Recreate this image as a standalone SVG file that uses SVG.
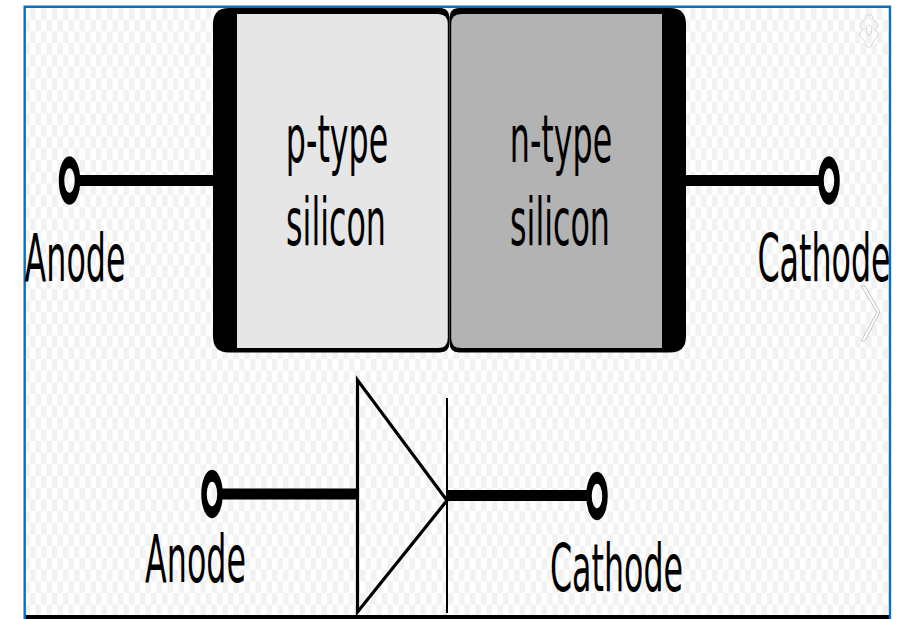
<svg xmlns="http://www.w3.org/2000/svg" width="904" height="619" viewBox="0 0 904 619">
<style>
.t{font-family:"DejaVu Sans",sans-serif;font-size:31.700px;fill:#000}
.w{fill:none;stroke:#000;stroke-width:11}
.term{fill:none;stroke:#000;stroke-width:5.500}
.sym{fill:none;stroke:#000;stroke-width:3.200}
</style>
<defs>
<pattern id="chk" x="30" y="8" width="11" height="23.400" patternUnits="userSpaceOnUse">
<rect x="0" y="0" width="5.500" height="11.700" fill="#f2f2f2"/>
<rect x="5.500" y="11.700" width="5.500" height="11.700" fill="#f2f2f2"/>
</pattern>
</defs>
<rect width="904" height="619" fill="#fff"/>
<g id="frame">
<rect x="25" y="7" width="865" height="609" fill="url(#chk)"/>
<rect x="25" y="615" width="864" height="4" fill="#000"/>
<path d="M24.700 619V6.700H890V619" fill="none" stroke="#0b6fc4" stroke-width="2.400"/>
</g>
<g id="connectors">
<path class="w" d="M78 180.500H214"/>
<path class="w" d="M685 180.500H820"/>
<path class="w" d="M220 494H357"/>
<path class="w" d="M447 495.500H589"/>
</g>
<g id="p-type-silicon">
<path d="M229 8H440Q449.500 8 449.500 19V342Q449.500 352.500 440 352.500H229Q213 352.500 213 336.500V24Q213 8 229 8Z" fill="#000"/>
<path d="M237 14H438Q447.800 14 447.800 24V338Q447.800 348 438 348H237Z" fill="#e6e6e6"/>
<text class="t" transform="translate(337 162) scale(1 2.100)" text-anchor="middle">p-type</text>
<text class="t" transform="translate(336 245) scale(1 2.100)" text-anchor="middle">silicon</text>
</g>
<g id="n-type-silicon">
<path d="M670 8H459Q449.500 8 449.500 19V342Q449.500 352.500 459 352.500H670Q686 352.500 686 336.500V24Q686 8 670 8Z" fill="#000"/>
<path d="M662 14H461Q451.200 14 451.200 24V338Q451.200 348 461 348H662Z" fill="#b3b3b3"/>
<text class="t" transform="translate(561 162) scale(1 2.100)" text-anchor="middle">n-type</text>
<text class="t" transform="translate(560 245) scale(1 2.100)" text-anchor="middle">silicon</text>
</g>
<g id="anode-top">
<ellipse class="term" transform="translate(69.500 180.500) scale(1 2.150)" rx="8" ry="8.500"/>
<text class="t" transform="translate(75 281) scale(1 2.100)" text-anchor="middle">Anode</text>
</g>
<g id="cathode-top">
<ellipse class="term" transform="translate(829 180.500) scale(1 2.150)" rx="8" ry="8.500"/>
<text class="t" transform="translate(824 281) scale(1 2.100)" text-anchor="middle">Cathode</text>
</g>
<g id="diode-symbol">
<path class="sym" d="M357.500 380V612L447 500.500Z"/>
<path d="M447 398V613" fill="none" stroke="#000" stroke-width="2"/>
</g>
<g id="anode-bottom">
<ellipse class="term" transform="translate(212 494) scale(1 2.150)" rx="8" ry="8.500"/>
<text class="t" transform="translate(195.500 582) scale(1 2.100)" text-anchor="middle">Anode</text>
</g>
<g id="cathode-bottom">
<ellipse class="term" transform="translate(597 496) scale(1 2.150)" rx="8" ry="8.500"/>
<text class="t" transform="translate(616.500 591) scale(1 2.100)" text-anchor="middle">Cathode</text>
</g>
<g id="gear-icon" fill="none" stroke="#d8d8d8" stroke-width="1">
<path d="M869 15L872 15L873 19L875 21L878 24V27L875 30L878 33V36L875 39L873 42L871 47H867L865 42L863 39L860 36V33L863 30L860 27V24L863 21L865 19L866 15Z"/>
<ellipse cx="869" cy="30" rx="2.500" ry="5"/>
</g>
<g id="chevron-icon">
<path d="M861 286L877 312L861 341L865 341L880 312L865 286Z" fill="#fff" stroke="#c4c4c4" stroke-width="1"/>
</g>
</svg>
